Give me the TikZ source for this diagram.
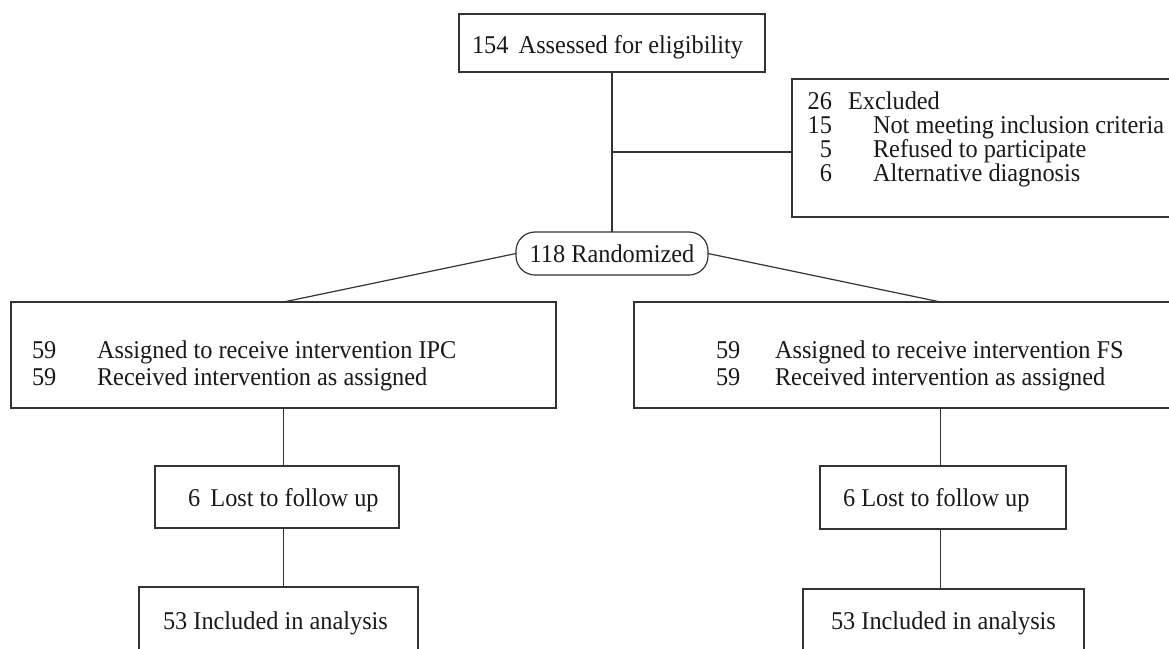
\documentclass[tikz,border=0pt]{standalone}
\usepackage{fontspec}
\setmainfont{Liberation Serif}[FakeStretch=0.95]
\begin{document}
\begin{tikzpicture}[x=1pt,y=-1pt,
  box/.style={draw=black!80, line width=1.2pt, inner sep=0pt, outer sep=0pt},
  conn/.style={draw=black!80, line width=1.2pt},
  txt/.style={inner sep=0pt, outer sep=0pt, anchor=base west, font=\fontsize{25.6}{28}\selectfont, text=black!90},
  num/.style={txt, anchor=base east},
  pill/.style={box, rounded corners=19pt, font=\fontsize{25.6}{28}\selectfont, text=black!90}]
\useasboundingbox (0,0) rectangle (1169,648);
\clip (0,0) rectangle (1169,648);
% boxes
\node[box, minimum width=306pt, minimum height=58pt] (top) at (612,43) {};
\node[box, minimum width=420pt, minimum height=138pt] (excl) at (1002,148) {};
\node[pill, minimum width=192pt, minimum height=43pt] (rand) at (612,253.5) {118 Randomized};
\node[box, minimum width=545pt, minimum height=106pt] (lbox) at (283.5,355) {};
\node[box, minimum width=613pt, minimum height=106pt] (rbox) at (940.5,355) {};
\node[box, minimum width=244pt, minimum height=62pt] (llost) at (277,497) {};
\node[box, minimum width=246pt, minimum height=63pt] (rlost) at (943,497.5) {};
\node[box, minimum width=279pt, minimum height=113pt] (linc) at (278.5,643.5) {};
\node[box, minimum width=281pt, minimum height=113pt] (rinc) at (943.5,645.5) {};
% texts
\node[txt] (t0) at (472,53) {154\hspace{0.4em}Assessed for eligibility};
\node[num] (e1n) at (832,109.5) {26};
\node[txt] (e1) at (848,109.5) {Excluded};
\node[num] (e2n) at (832,133.5) {15};
\node[txt] (e2) at (873,133.5) {Not meeting inclusion criteria};
\node[num] (e3n) at (832,157.5) {5};
\node[txt] (e3) at (873,157.5) {Refused to participate};
\node[num] (e4n) at (832,181.5) {6};
\node[txt] (e4) at (873,181.5) {Alternative diagnosis};
\node[txt] (l1n) at (32,358) {59};
\node[txt] (l1) at (97,358) {Assigned to receive intervention IPC};
\node[txt] (l2n) at (32,385) {59};
\node[txt] (l2) at (97,385) {Received intervention as assigned};
\node[txt] (r1n) at (716,358) {59};
\node[txt] (r1) at (775,358) {Assigned to receive intervention FS};
\node[txt] (r2n) at (716,385) {59};
\node[txt] (r2) at (775,385) {Received intervention as assigned};
\node[txt] (ll) at (188,506) {6\hspace{0.4em}Lost to follow up};
\node[txt] (rl) at (843,506) {6 Lost to follow up};
\node[txt] (li) at (163,629) {53 Included in analysis};
\node[txt] (ri) at (831,629) {53 Included in analysis};
% connectors
\draw[conn] (top.south) -- (rand.north);
\coordinate (br) at (612,152);
\draw[conn] (br) -- (excl.west |- br);
\draw[conn] (rand.west) -- (lbox.north);
\draw[conn] (rand.east) -- (rbox.north);
\draw[conn] (lbox.south) -- (lbox.south |- llost.north);
\draw[conn] (lbox.south |- llost.south) -- (lbox.south |- linc.north);
\draw[conn] (rbox.south) -- (rbox.south |- rlost.north);
\draw[conn] (rbox.south |- rlost.south) -- (rbox.south |- rinc.north);
\end{tikzpicture}
\end{document}
